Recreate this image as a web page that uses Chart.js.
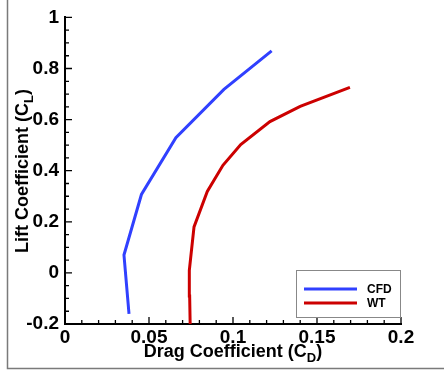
<!DOCTYPE html>
<html>
<head>
<meta charset="utf-8">
<script src="https://cdn.jsdelivr.net/npm/chart.js@4/dist/chart.umd.min.js"></script>
<style>
  body { margin: 0; background: #fff; }
  canvas { display: block; }
</style>
</head>
<body>
<canvas id="myChart" width="444" height="373"></canvas>
<script>
"use strict";

// data
const cfdCd = [0.0381, 0.0351, 0.0455, 0.0660, 0.0946, 0.1230];
const cfdCl = [-0.160, 0.070, 0.307, 0.529, 0.718, 0.869];
const wtCd = [0.0745, 0.0742, 0.0740, 0.0768, 0.0847, 0.0940, 0.1046, 0.1220, 0.1400, 0.1696];
const wtCl = [-0.200, -0.090, 0.010, 0.180, 0.319, 0.421, 0.502, 0.592, 0.652, 0.726];
const seriesNames = ["CFD", "WT"];
const xTitle = ["Drag Coefficient (C", "D", ")"];
const yTitle = ["Lift Coefficient (C", "L", ")"];

const FONT = "Liberation Sans, Arial, sans-serif";

function toPoints(xs, ys) {
  return xs.map((x, i) => ({ x: x, y: ys[i] }));
}

// plain number labels: 1, 0.8, 0, -0.2, 0.05 ...
function fmt(value) {
  return String(parseFloat(Number(value).toFixed(3)));
}

// draws text with a subscript part, centered on (0,0) of the current transform
function subText(ctx, parts, size) {
  const big = "bold " + size + "px " + FONT;
  const small = "bold " + Math.round(size * 0.7) + "px " + FONT;
  ctx.font = big;
  const w1 = ctx.measureText(parts[0]).width;
  const w3 = ctx.measureText(parts[2]).width;
  ctx.font = small;
  const w2 = ctx.measureText(parts[1]).width;
  let x = -(w1 + w2 + w3) / 2;
  ctx.textAlign = "left";
  ctx.textBaseline = "alphabetic";
  ctx.fillStyle = "#000";
  ctx.font = big;
  ctx.fillText(parts[0], x, 0);
  x += w1;
  ctx.font = small;
  ctx.fillText(parts[1], x, 5);
  x += w2;
  ctx.font = big;
  ctx.fillText(parts[2], x, 0);
}

const decor = {
  id: "decor",
  afterDraw(chart) {
    const ctx = chart.ctx;
    const area = chart.chartArea;
    const xs = chart.scales.x;
    const ys = chart.scales.y;
    ctx.save();

    // outer frame (left + bottom only)
    ctx.strokeStyle = "#7a7a7a";
    ctx.lineWidth = 1.5;
    ctx.beginPath();
    ctx.moveTo(7.5, 0);
    ctx.lineTo(7.5, 368.5);
    ctx.lineTo(444, 368.5);
    ctx.stroke();

    // inward ticks
    ctx.strokeStyle = "#000";
    ctx.lineWidth = 1.3;
    ctx.beginPath();
    for (let i = 0; i <= 20; i++) {
      const px = xs.getPixelForValue(i * 0.01);
      const len = i % 5 === 0 ? 7 : 4;
      ctx.moveTo(px, area.bottom);
      ctx.lineTo(px, area.bottom - len);
    }
    for (let i = 0; i <= 24; i++) {
      const py = ys.getPixelForValue(-0.2 + i * 0.05);
      const len = i % 4 === 0 ? 7 : 4;
      ctx.moveTo(area.left, py);
      ctx.lineTo(area.left + len, py);
    }
    ctx.stroke();

    // axis titles
    ctx.save();
    ctx.translate((area.left + area.right) / 2, 357);
    subText(ctx, xTitle, 18);
    ctx.restore();
    ctx.save();
    ctx.translate(28, 171);
    ctx.rotate(-Math.PI / 2);
    subText(ctx, yTitle, 18);
    ctx.restore();

    // legend box
    ctx.fillStyle = "#fff";
    ctx.fillRect(296, 270, 104, 47);
    ctx.strokeStyle = "#888";
    ctx.lineWidth = 1;
    ctx.strokeRect(296.5, 270.5, 104, 47);
    const rows = [289, 303];
    chart.data.datasets.forEach((ds, i) => {
      ctx.strokeStyle = ds.borderColor;
      ctx.lineWidth = 3;
      ctx.beginPath();
      ctx.moveTo(304, rows[i]);
      ctx.lineTo(357, rows[i]);
      ctx.stroke();
      ctx.fillStyle = "#000";
      ctx.font = "bold 12px " + FONT;
      ctx.textAlign = "left";
      ctx.textBaseline = "middle";
      ctx.fillText(ds.label, 367, rows[i] + 0.5);
    });
    ctx.restore();
  }
};

const data = {
  datasets: [{
    label: seriesNames[0],
    data: toPoints(cfdCd, cfdCl),
    borderColor: "#3040ff",
    backgroundColor: "#3040ff",
    borderWidth: 3,
    showLine: true,
    pointRadius: 0,
    tension: 0
  },
  {
    label: seriesNames[1],
    data: toPoints(wtCd, wtCl),
    borderColor: "#cc0000",
    backgroundColor: "#cc0000",
    borderWidth: 3,
    showLine: true,
    pointRadius: 0,
    tension: 0
  }]
};

const tickFont = { family: FONT, weight: "bold", size: 19 };

const config = {
  type: "scatter",
  data,
  options: {
    responsive: false,
    animation: false,
    layout: { padding: { top: 17, right: 43, left: 0, bottom: 0 } },
    plugins: {
      legend: { display: false },
      tooltip: { enabled: false }
    },
    scales: {
      x: {
        type: "linear",
        min: 0,
        max: 0.2,
        grid: { display: false, drawTicks: false },
        border: { display: true, color: "#000", width: 2 },
        ticks: { stepSize: 0.05, color: "#000", font: tickFont, padding: 2, maxRotation: 0, callback: fmt },
        afterFit(scale) { scale.height = 49; }
      },
      y: {
        type: "linear",
        min: -0.2,
        max: 1,
        grid: { display: false, drawTicks: false },
        border: { display: true, color: "#000", width: 2 },
        ticks: { stepSize: 0.2, color: "#000", font: tickFont, padding: 6, callback: fmt },
        afterFit(scale) { scale.width = 65; }
      }
    }
  },
  plugins: [decor]
};

const myChart = new Chart(document.getElementById("myChart"), config);
</script>
</body>
</html>
